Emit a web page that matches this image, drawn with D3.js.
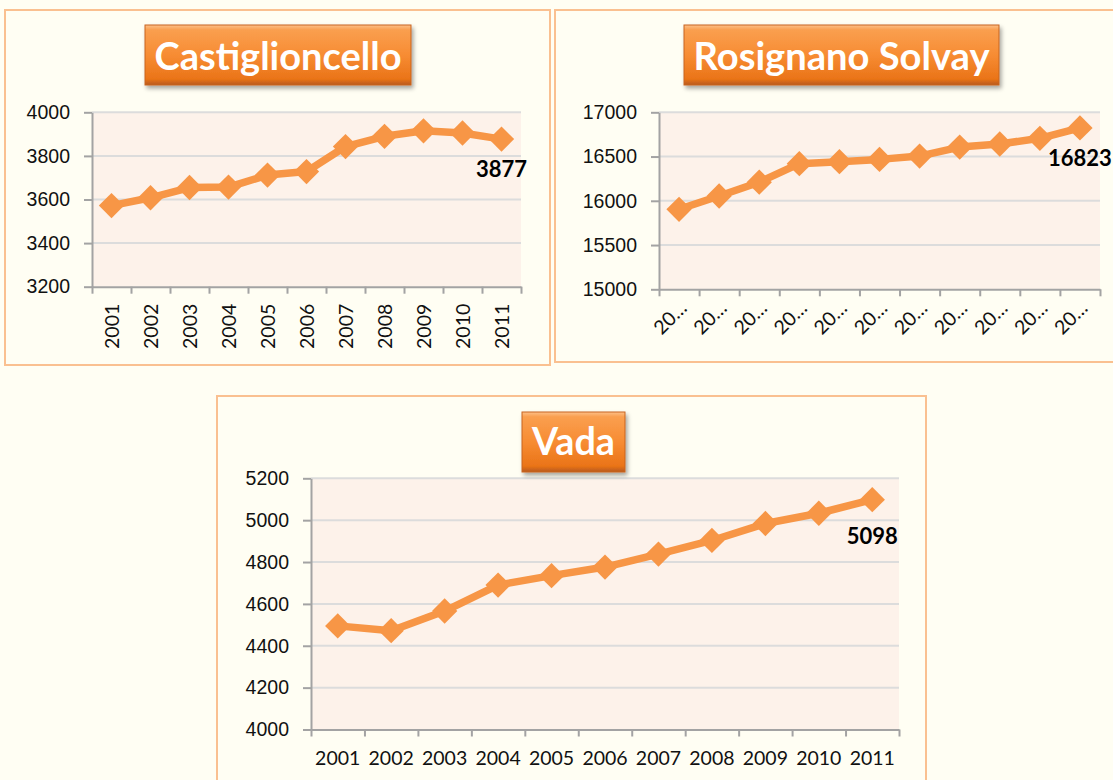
<!DOCTYPE html>
<html>
<head>
<meta charset="utf-8">
<script src="https://cdn.jsdelivr.net/npm/d3@7"></script>
<style>
  body { margin: 0; background: #fffef3; }
  svg { display: block; font-family: Lato, "Open Sans", sans-serif; }
</style>
</head>
<body>
<svg id="chart" width="1113" height="780"></svg>
<script>
// Data
const years = ["2001", "2002", "2003", "2004", "2005", "2006", "2007", "2008", "2009", "2010", "2011"];
const castiglioncello = [3572, 3608, 3655, 3657, 3712, 3728, 3843, 3890, 3915, 3905, 3877];
const rosignano = [15904, 16054, 16210, 16420, 16442, 16468, 16505, 16607, 16642, 16706, 16823];
const vada = [4495, 4472, 4566, 4690, 4735, 4776, 4838, 4903, 4984, 5033, 5098];

const castTicks = [3200, 3400, 3600, 3800, 4000];
const rosTicks = [15000, 15500, 16000, 16500, 17000];
const vadaTicks = [4000, 4200, 4400, 4600, 4800, 5000, 5200];

const titles = ["Castiglioncello", "Rosignano Solvay", "Vada"];

// Layout of the three panels
const panels = [
    { title: titles[0], values: castiglioncello, ticks: castTicks,
      frame: [5, 10, 545, 355], plot: [92, 521, 112.3, 286.7],
      box: [145, 25, 266, 60], textW: 247, baseline: 70,
      labels: "vertical", labelDy: 30 },
    { title: titles[1], values: rosignano, ticks: rosTicks,
      frame: [555, 10, 600, 352], plot: [659, 1100, 112.3, 289.3],
      box: [684, 25, 315, 60], textW: 296, baseline: 70,
      labels: "diagonal", labelDy: 30 },
    { title: titles[2], values: vada, ticks: vadaTicks,
      frame: [217, 396, 709, 420], plot: [311, 899, 478.3, 729.5],
      box: [522, 412, 103, 60], textW: 83, baseline: 455,
      labels: "flat", labelDy: 37 }
];

const orange = "#f79646";
const svg = d3.select("#chart");

// gradient + shadow for the title boxes
const defs = svg.append("defs");
const grad = defs.append("linearGradient")
    .attr("id", "titleGrad")
    .attr("x1", 0).attr("y1", 0).attr("x2", 0).attr("y2", 1);
[["0", "#fcc08a"], ["0.08", "#fa9f4f"], ["0.5", "#f78c33"], ["0.9", "#ea7418"], ["1", "#b85a1c"]]
    .forEach(s => grad.append("stop").attr("offset", s[0]).attr("stop-color", s[1]));

defs.append("filter")
    .attr("id", "shadow")
    .attr("x", "-10%").attr("y", "-10%").attr("width", "130%").attr("height", "140%")
    .append("feDropShadow")
    .attr("dx", 2).attr("dy", 3).attr("stdDeviation", 2)
    .attr("flood-color", "#000").attr("flood-opacity", 0.35);

panels.forEach(p => {
    const g = svg.append("g");
    const [x0, x1, y0, y1] = p.plot;

    // panel frame
    g.append("rect")
        .attr("x", p.frame[0]).attr("y", p.frame[1])
        .attr("width", p.frame[2]).attr("height", p.frame[3])
        .attr("fill", "#fffef3")
        .attr("stroke", "#fac090")
        .attr("stroke-width", 2);

    // scales
    const yScale = d3.scaleLinear()
        .domain(d3.extent(p.ticks))
        .range([y1, y0]);

    const band = d3.scaleBand()
        .domain(years)
        .range([x0, x1])
        .padding(0);

    const xEdges = d3.scaleLinear()
        .domain([0, years.length])
        .range([x0, x1]);

    // plot area background
    g.append("rect")
        .attr("x", x0).attr("y", y0)
        .attr("width", x1 - x0).attr("height", y1 - y0)
        .attr("fill", "#fdf2ea");

    // gridlines
    g.selectAll(".grid")
        .data(p.ticks.slice(1))
        .join("line")
        .attr("x1", x0).attr("x2", x1)
        .attr("y1", d => yScale(d)).attr("y2", d => yScale(d))
        .attr("stroke", "#dcdcdc")
        .attr("stroke-width", 2);

    // y axis
    const yAxis = g.append("g")
        .attr("transform", `translate(${x0},0)`)
        .call(d3.axisLeft(yScale)
            .tickValues(p.ticks)
            .tickFormat(d3.format("d"))
            .tickSize(8).tickPadding(14).tickSizeOuter(0));

    // x axis, ticks at category edges
    const xAxis = g.append("g")
        .attr("transform", `translate(0,${y1})`)
        .call(d3.axisBottom(xEdges).tickValues(d3.range(years.length + 1)).tickFormat("").tickSize(7).tickSizeOuter(0));

    [yAxis, xAxis].forEach(a => {
        a.selectAll("path, line").attr("stroke", "#a3a3a3").attr("stroke-width", 2);
    });
    yAxis.selectAll("text")
        .attr("fill", "#111")
        .style("font-size", "19.5px");

    // category labels
    const cx = d => band(d) + band.bandwidth() / 2;
    const lab = g.selectAll(".xlab")
        .data(years)
        .join("text")
        .attr("fill", "#111")
        .style("font-size", "19.5px");

    if (p.labels === "vertical") {
        lab.attr("transform", d => `translate(${cx(d)},${y1 + 17}) rotate(-90)`)
            .attr("text-anchor", "end")
            .attr("dy", "0.36em")
            .text(d => d);
    } else if (p.labels === "diagonal") {
        lab.attr("transform", d => `translate(${cx(d) + 9},${y1 + 20}) rotate(-45)`)
            .attr("text-anchor", "end")
            .text(d => d.slice(0, 2) + "\u2026");
    } else {
        lab.attr("x", cx)
            .attr("y", y1 + 29)
            .attr("dy", "0.35em")
            .attr("text-anchor", "middle")
            .text(d => d);
    }

    // the line
    const lineGenerator = d3.line()
        .x((d, i) => cx(years[i]))
        .y(d => yScale(d));

    g.append("path")
        .datum(p.values)
        .attr("fill", "none")
        .attr("stroke", orange)
        .attr("stroke-width", 7.5)
        .attr("stroke-linejoin", "round")
        .attr("d", lineGenerator);

    // diamond markers
    g.selectAll(".mark")
        .data(p.values)
        .join("path")
        .attr("d", d3.symbol(d3.symbolSquare, 320))
        .attr("transform", (d, i) => `translate(${cx(years[i])},${yScale(d)}) rotate(45)`)
        .attr("fill", orange);

    // label on the last point
    const last = p.values.length - 1;
    g.append("text")
        .attr("x", cx(years[last]))
        .attr("y", yScale(p.values[last]) + p.labelDy)
        .attr("dy", "0.35em")
        .attr("text-anchor", "middle")
        .attr("font-weight", "bold")
        .attr("fill", "#000")
        .style("font-size", "22px")
        .text(p.values[last]);

    // title box
    const [bx, by, bw, bh] = p.box;
    g.append("rect")
        .attr("x", bx).attr("y", by)
        .attr("width", bw).attr("height", bh)
        .attr("fill", "url(#titleGrad)")
        .attr("stroke", "#c8651f")
        .attr("stroke-width", 1)
        .attr("filter", "url(#shadow)");

    g.append("text")
        .attr("x", bx + bw / 2)
        .attr("y", p.baseline)
        .attr("text-anchor", "middle")
        .attr("font-weight", "bold")
        .attr("fill", "#fff")
        .attr("textLength", p.textW)
        .attr("lengthAdjust", "spacingAndGlyphs")
        .style("font-size", "37.5px")
        .text(p.title);
});
</script>
</body>
</html>
